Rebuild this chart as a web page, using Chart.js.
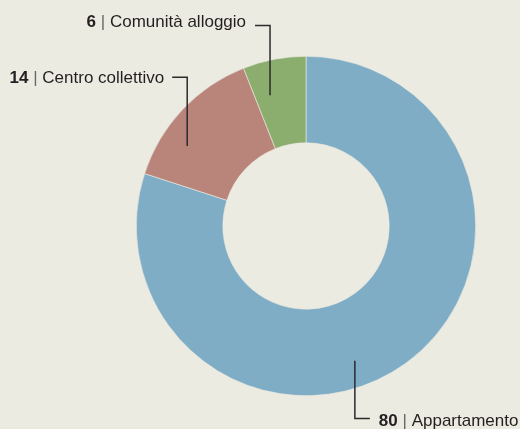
<!DOCTYPE html>
<html>
<head>
<meta charset="utf-8">
<script src="https://cdn.jsdelivr.net/npm/chart.js@4/dist/chart.umd.min.js"></script>
<style>
html,body{margin:0;padding:0;background:#ECEBE1;}
#wrap{width:520px;height:429px;position:relative;}
</style>
</head>
<body>
<div id="wrap"><canvas id="c" width="520" height="429"></canvas></div>
<script>
const categories = ["Appartamento", "Centro collettivo", "Comunità alloggio"];
const values = [80, 14, 6];
const colors = ["#7FADC6", "#B9857B", "#8BAE6E"];

// leader layout (fractions of outer radius, relative to doughnut center)
const leaders = [
  {end:[0.288, 0.794], elbowY:1.135, dir:1, gap:9, textDy:7},
  {end:[-0.700,-0.471], elbowY:-0.876, dir:-1, gap:8, textDy:6},
  {end:[-0.212,-0.771], elbowY:-1.182, dir:-1, gap:9, textDy:2}
];

const FONT = '"Liberation Sans Narrow", "Arial Narrow", "Liberation Sans", sans-serif';

const leaderPlugin = {
  id:'leaders',
  afterDatasetsDraw(chart){
    const ctx = chart.ctx;
    const meta = chart.getDatasetMeta(0);
    meta.data.forEach((arc, i) => {
      const L = leaders[i];
      const R = arc.outerRadius, cx = arc.x, cy = arc.y;
      const ex = cx + L.end[0]*R, ey = cy + L.end[1]*R;
      const ly = cy + L.elbowY*R;
      const hx = ex + L.dir*15;
      ctx.save();
      ctx.strokeStyle = '#2b2b2b';
      ctx.lineWidth = 1.5;
      ctx.beginPath();
      ctx.moveTo(ex, ey); ctx.lineTo(ex, ly); ctx.lineTo(hx, ly);
      ctx.stroke();
      const num = String(values[i]);
      const sep = ' | ';
      const txt = categories[i];
      const boldF = 'bold 17px ' + FONT, regF = '17px ' + FONT;
      ctx.font = boldF; const wN = ctx.measureText(num).width;
      ctx.font = regF; const wS = ctx.measureText(sep).width; const wT = ctx.measureText(txt).width;
      const total = wN + wS + wT;
      let x = L.dir > 0 ? hx + L.gap : hx - L.gap - total;
      const by = ly + L.textDy;
      ctx.textBaseline = 'alphabetic';
      ctx.textAlign = 'left';
      ctx.fillStyle = '#231f20';
      ctx.font = boldF; ctx.fillText(num, x, by); x += wN;
      ctx.font = regF; ctx.fillStyle = '#666'; ctx.fillText(sep, x, by); x += wS;
      ctx.fillStyle = '#231f20'; ctx.fillText(txt, x, by);
      ctx.restore();
    });
  }
};

new Chart(document.getElementById('c'), {
  type:'doughnut',
  data:{labels:categories, datasets:[{data:values, backgroundColor:colors, borderColor:'#ECEBE1', borderWidth:0.6, hoverOffset:0}]},
  options:{
    responsive:false, animation:false, cutout:'49%',
    layout:{padding:{left:136, right:44, top:56, bottom:33}},
    plugins:{legend:{display:false}, tooltip:{enabled:false}}
  },
  plugins:[leaderPlugin]
});
</script>
</body>
</html>
